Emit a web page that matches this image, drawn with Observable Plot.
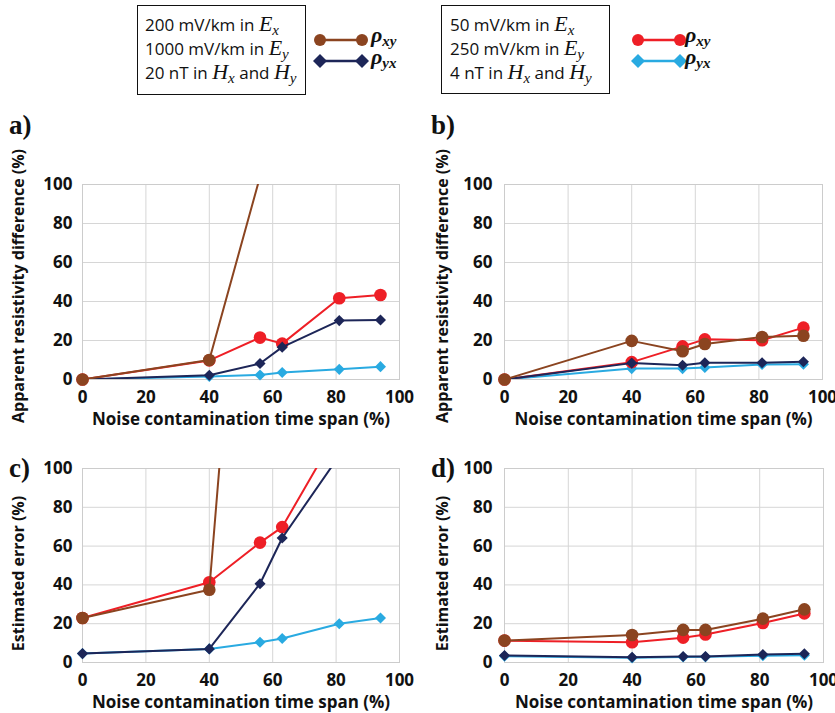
<!DOCTYPE html>
<html><head><meta charset="utf-8">
<script src="https://cdn.jsdelivr.net/npm/d3@7"></script>
<script src="https://cdn.jsdelivr.net/npm/@observablehq/plot@0.6"></script>
<style>
body{margin:0;background:#fff;}
#wrap{position:relative;width:835px;height:713px;overflow:hidden;font-family:"Open Sans",sans-serif;background:#fff;}
.box{position:absolute;border:1.3px solid #111;box-sizing:border-box;}
.ln{position:absolute;font-size:17px;line-height:20px;height:20px;white-space:nowrap;color:#111;}
.m{font-family:"Liberation Serif",serif;font-style:italic;font-size:22px;line-height:18px;}
.m sub{font-size:15px;vertical-align:-4px;line-height:0;}
.rho{position:absolute;font-family:"Liberation Serif",serif;font-style:italic;font-weight:bold;font-size:22px;line-height:18px;height:18px;color:#111;white-space:nowrap;}
.rho sub{font-size:15px;vertical-align:-4px;line-height:0;}
.pl{position:absolute;font-family:"Liberation Serif",serif;font-weight:bold;font-size:27px;line-height:27px;color:#111;}
.panel{position:absolute;}
</style></head>
<body><div id="wrap">
<div class="box" style="left:137px;top:5px;width:169px;height:90px"></div>
<div class="ln" style="left:145px;top:15px">200 mV/km in <span class="m">E<sub>x</sub></span></div>
<div class="ln" style="left:145px;top:39px">1000 mV/km in <span class="m">E<sub>y</sub></span></div>
<div class="ln" style="left:145px;top:63px">20 nT in <span class="m">H<sub>x</sub></span> and <span class="m">H<sub>y</sub></span></div>
<div class="box" style="left:441px;top:5px;width:169px;height:89px"></div>
<div class="ln" style="left:450px;top:15px">50 mV/km in <span class="m">E<sub>x</sub></span></div>
<div class="ln" style="left:450px;top:39px">250 mV/km in <span class="m">E<sub>y</sub></span></div>
<div class="ln" style="left:450px;top:63px">4 nT in <span class="m">H<sub>x</sub></span> and <span class="m">H<sub>y</sub></span></div>
<svg id="sw1" style="position:absolute;left:310px;top:28px" width="60" height="46"></svg>
<svg id="sw2" style="position:absolute;left:628px;top:28px" width="60" height="46"></svg>
<div class="rho" style="left:371px;top:26px">ρ<sub>xy</sub></div>
<div class="rho" style="left:371px;top:48px">ρ<sub>yx</sub></div>
<div class="rho" style="left:685px;top:26px">ρ<sub>xy</sub></div>
<div class="rho" style="left:685px;top:48px">ρ<sub>yx</sub></div>
<div class="pl" style="left:9px;top:112px">a)</div>
<div class="pl" style="left:431px;top:112px">b)</div>
<div class="pl" style="left:9px;top:455px">c)</div>
<div class="pl" style="left:431px;top:455px">d)</div>
</div>
<script>
// x values: noise contamination time span (%)
const timeSpan = [0, 40, 56, 63, 81, 94];
const ticks = [0, 20, 40, 60, 80, 100];
const xLabel = "Noise contamination time span (%)";
const yLabelTop = "Apparent resistivity difference (%)";
const yLabelBottom = "Estimated error (%)";

// Panel a: apparent resistivity difference
const aStrongXY = [0, 10, 104, null, null, null];
const aStrongYX = [0, 2.2, 8.2, 16.6, 30.2, 30.5];
const aWeakXY   = [0, 9.8, 21.5, 18.4, 41.7, 43.3];
const aWeakYX   = [0, 1.6, 2.3, 3.6, 5.2, 6.6];
// Panel b
const bStrongXY = [0, 19.8, 14.5, 18.2, 21.8, 22.4];
const bStrongYX = [0, 8.4, 7.3, 8.6, 8.6, 9.1];
const bWeakXY   = [0, 8.9, 17.0, 20.6, 20.1, 26.6];
const bWeakYX   = [0, 5.6, 5.6, 6.2, 7.7, 7.8];
// Panel c: estimated error
const cStrongXY = [22.9, 37.5, 356, null, null, null];
const cStrongYX = [4.6, 7.0, 40.6, 64.2, 106.6, null];
const cWeakXY   = [22.9, 41.4, 61.8, 69.8, 120.7, null];
const cWeakYX   = [4.6, 7.0, 10.4, 12.4, 20.0, 22.9];
// Panel d
const dStrongXY = [11.3, 14.2, 16.8, 16.8, 22.6, 27.4];
const dStrongYX = [3.6, 2.7, 3.1, 3.1, 4.1, 4.5];
const dWeakXY   = [11.3, 10.4, 12.8, 14.4, 20.4, 25.3];
const dWeakYX   = [3.3, 2.4, 2.8, 2.9, 3.5, 3.7];

const seriesStyle = {
  weakYX:   {color: "#29aae1", symbol: "diamond2", r: 5},
  weakXY:   {color: "#ee1f26", symbol: "circle", r: 6.3},
  strongYX: {color: "#1d2658", symbol: "diamond2", r: 5},
  strongXY: {color: "#8b4420", symbol: "circle", r: 6.3}
};
const order = ["weakYX", "weakXY", "strongYX", "strongXY"];

function rowsOf(key, vals) {
  return timeSpan.map((t, i) => ({key, t, v: vals[i]})).filter(d => d.v != null);
}

function panel(cfg) {
  const marks = [
    Plot.gridX(ticks, {stroke: "#d6d6d6", strokeOpacity: 1}),
    Plot.gridY(ticks, {stroke: "#d6d6d6", strokeOpacity: 1}),
    Plot.frame({stroke: "#cccccc"}),
    Plot.axisX({ticks, tickSize: 0, tickPadding: 11, label: null, fontSize: 17}),
    Plot.axisY({ticks, tickSize: 0, tickPadding: cfg.tp, label: null, fontSize: 17})
  ];
  for (const k of order) {
    const st = seriesStyle[k];
    const rows = rowsOf(k, cfg.data[k]);
    marks.push(Plot.line(rows, {x: "t", y: "v", stroke: st.color, strokeWidth: 2, clip: true}));
    marks.push(Plot.dot(rows, {filter: d => d.v <= 100, x: "t", y: "v", symbol: st.symbol, r: st.r, fill: st.color, stroke: "none"}));
  }
  marks.push(Plot.text([xLabel], {frameAnchor: "bottom", dy: 45, fontSize: 17, fill: "#111"}));
  marks.push(Plot.text([cfg.yLabel], {frameAnchor: "left", textAnchor: "middle", dx: cfg.ydx, dy: cfg.ydy, rotate: -90, fontSize: 16, fill: "#111"}));
  const svg = Plot.plot({
    width: cfg.w, height: cfg.h,
    marginLeft: cfg.ml, marginRight: cfg.mr, marginTop: cfg.mt, marginBottom: cfg.mb,
    x: {domain: [0, 100]},
    y: {domain: [0, 100]},
    style: {fontFamily: "'Open Sans', sans-serif", fontWeight: "bold", color: "#111", background: "transparent", overflow: "visible"},
    marks
  });
  svg.classList.add("panel");
  svg.style.left = cfg.left + "px";
  svg.style.top = cfg.top + "px";
  document.getElementById("wrap").appendChild(svg);
}

panel({left: 0, top: 110, w: 420, h: 330, ml: 82, mr: 21, mt: 74, mb: 61, tp: 10, ydx: -64, ydy: 4, yLabel: yLabelTop,
  data: {strongXY: aStrongXY, strongYX: aStrongYX, weakXY: aWeakXY, weakYX: aWeakYX}});
panel({left: 420, top: 110, w: 415, h: 330, ml: 84, mr: 13, mt: 74, mb: 61, tp: 12, ydx: -62, ydy: 4, yLabel: yLabelTop,
  data: {strongXY: bStrongXY, strongYX: bStrongYX, weakXY: bWeakXY, weakYX: bWeakYX}});
panel({left: 0, top: 440, w: 420, h: 273, ml: 82, mr: 21, mt: 28, mb: 51, tp: 10, ydx: -64, ydy: 8, yLabel: yLabelBottom,
  data: {strongXY: cStrongXY, strongYX: cStrongYX, weakXY: cWeakXY, weakYX: cWeakYX}});
panel({left: 420, top: 440, w: 415, h: 273, ml: 84, mr: 12, mt: 28, mb: 51, tp: 12, ydx: -62, ydy: 8, yLabel: yLabelBottom,
  data: {strongXY: dStrongXY, strongYX: dStrongYX, weakXY: dWeakXY, weakYX: dWeakYX}});

// legend swatches
function swatch(id, top, bottom) {
  const s = d3.select("#" + id);
  [[top, 12], [bottom, 33]].forEach(([st, y]) => {
    s.append("line").attr("x1", 10).attr("x2", 52).attr("y1", y).attr("y2", y).attr("stroke", st.color).attr("stroke-width", 2.5);
    [10, 52].forEach(x => {
      if (st.symbol === "circle") s.append("circle").attr("cx", x).attr("cy", y).attr("r", 6).attr("fill", st.color);
      else s.append("path").attr("d", `M${x},${y-7}L${x+7},${y}L${x},${y+7}L${x-7},${y}Z`).attr("fill", st.color);
    });
  });
}
swatch("sw1", seriesStyle.strongXY, seriesStyle.strongYX);
swatch("sw2", seriesStyle.weakXY, seriesStyle.weakYX);
</script>
</body></html>
